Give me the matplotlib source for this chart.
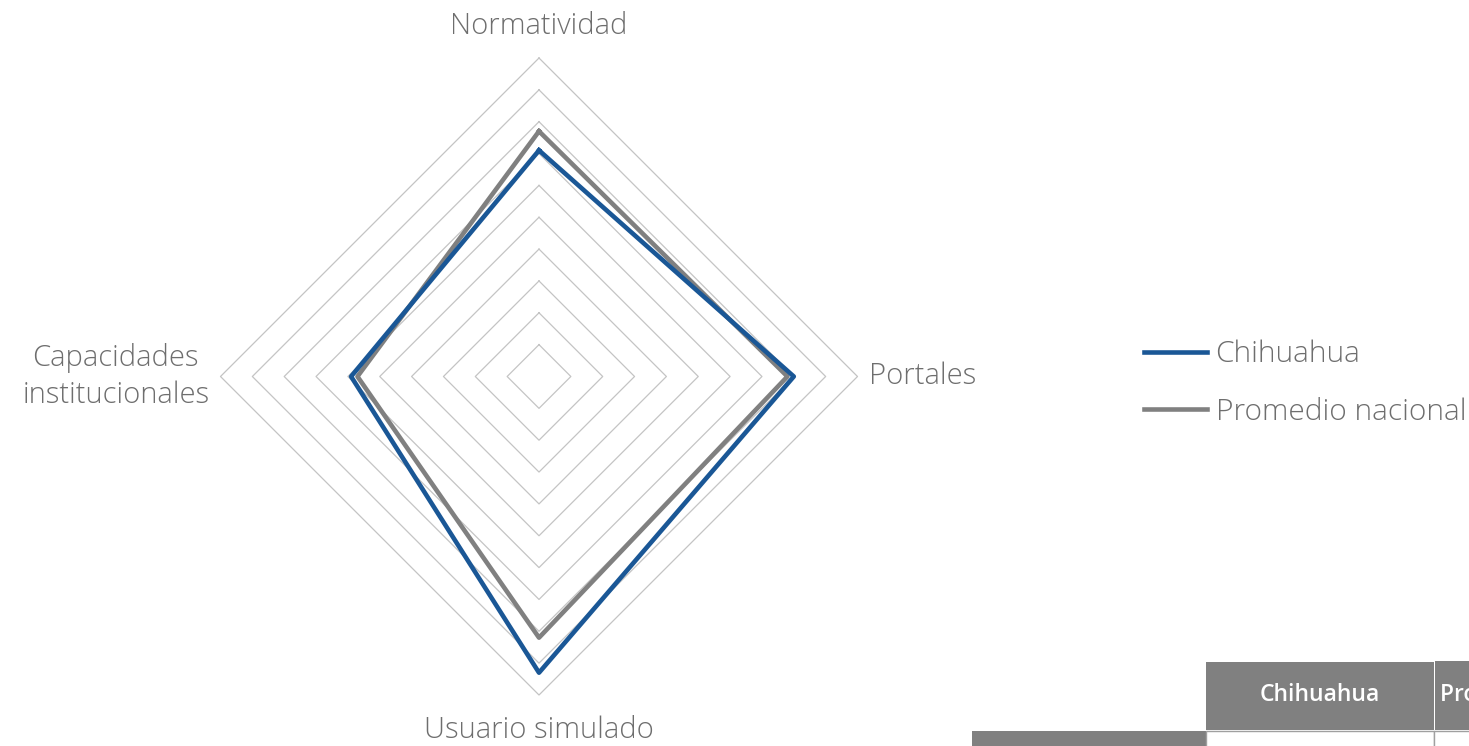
import numpy as np
import matplotlib
matplotlib.use("Agg")
import matplotlib.pyplot as plt
from matplotlib.patches import Rectangle

# Radar data (clockwise from top)
categories = ["Normatividad", "Portales", "Usuario simulado", "Capacidades\ninstitucionales"]
chihuahua = [0.71, 0.80, 0.93, 0.59]
promedio = [0.77, 0.78, 0.82, 0.57]
series_names = ["Chihuahua", "Promedio nacional"]
rings = np.arange(0.1, 1.01, 0.1)

blue = "#1A5796"
gray = "#808080"
grid_col = "#C4C4C4"
txt_col = "#6E6E6E"
font = "Open Sans"
fs = 21

W, H = 1469, 746
fig = plt.figure(figsize=(W / 100, H / 100), dpi=100)

# radar axes: centre (539, 376.5) px, radius 318.5 px
cx, cy, R = 539, 376.5, 318.5
ax = fig.add_axes([(cx - R) / W, (H - cy - R) / H, 2 * R / W, 2 * R / H])
ax.set_xlim(-1, 1)
ax.set_ylim(-1, 1)
ax.axis("off")

ang = np.pi / 2 - np.arange(len(categories)) * 2 * np.pi / len(categories)
ang_c = np.append(ang, ang[0])

for r in rings:
    ax.plot(r * np.cos(ang_c), r * np.sin(ang_c), color=grid_col, lw=0.9, clip_on=False, zorder=1)

def close(v):
    v = np.asarray(v)
    return np.append(v, v[0])

ax.plot(close(promedio) * np.cos(ang_c), close(promedio) * np.sin(ang_c),
        color=gray, lw=3.3, clip_on=False, zorder=3, label=series_names[1])
ax.plot(close(chihuahua) * np.cos(ang_c), close(chihuahua) * np.sin(ang_c),
        color=blue, lw=3.3, clip_on=False, zorder=4, label=series_names[0])

# category labels
lab = dict(fontsize=fs, color=txt_col, family=font, fontweight="light")
ax.text(0, 1.10, categories[0], ha="center", va="center", **lab)
ax.text(1.035, 0, categories[1], ha="left", va="center", **lab)
ax.text(0, -1.11, categories[2], ha="center", va="center", **lab)
ax.text(-1.035, 0, categories[3], ha="right", va="center", multialignment="center",
        linespacing=1.3, **lab)

# legend
h, l = ax.get_legend_handles_labels()
leg = fig.legend(h[::-1], l[::-1], loc="center left", bbox_to_anchor=(1117 / W, 1 - 383 / H),
                 frameon=False, handlelength=2.1, handletextpad=0.3, labelspacing=0.94,
                 prop={"family": font, "size": 21.5, "weight": "light"})
for t in leg.get_texts():
    t.set_color(txt_col)

# partial table at bottom right (cut by the figure edge, as in the source)
def px_rect(x0, y0, x1, y1, **kw):
    fig.add_artist(Rectangle((x0 / W, 1 - y1 / H), (x1 - x0) / W, (y1 - y0) / H,
                             transform=fig.transFigure, **kw))

px_rect(1206, 662, 1434, 730, facecolor=gray, edgecolor="none")
px_rect(1435, 661, 1480, 730, facecolor=gray, edgecolor="none")
px_rect(972, 731, 1206, 760, facecolor=gray, edgecolor="none")
px_rect(1206, 731, 1434, 760, facecolor="white", edgecolor="#A0A0A0", lw=1)
px_rect(1434, 731, 1480, 760, facecolor="white", edgecolor="#A0A0A0", lw=1)
fig.text(1320 / W, 1 - 695 / H, series_names[0], ha="center", va="center", color="white",
         fontsize=16.5, family=font, fontweight="semibold")
fig.text(1440 / W, 1 - 695 / H, series_names[1], ha="left", va="center", color="white",
         fontsize=16.5, family=font, fontweight="semibold")

fig.savefig("out.png", dpi=100)
